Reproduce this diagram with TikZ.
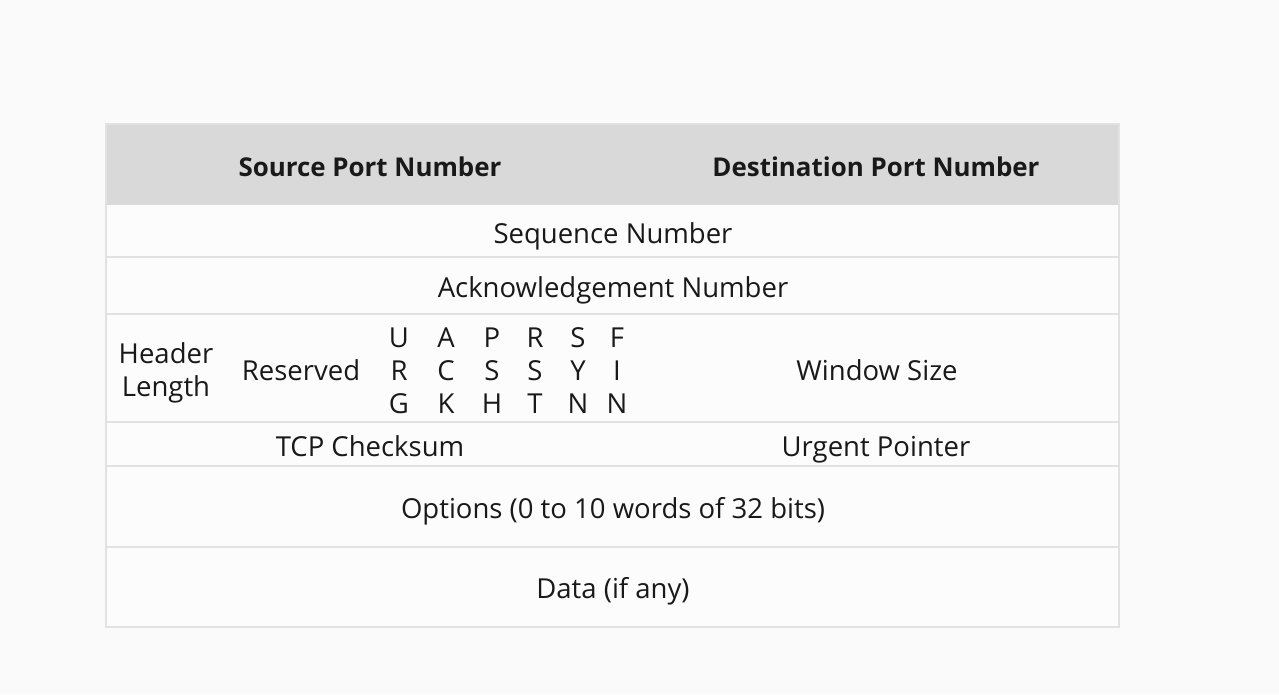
\documentclass[tikz,border=0pt]{standalone}
\usepackage{fontspec}
\setmainfont{Open Sans}
\definecolor{bgc}{HTML}{FAFAFA}
\definecolor{cellc}{HTML}{FCFCFC}
\definecolor{headc}{HTML}{D9D9D9}
\definecolor{linec}{HTML}{E2E2E2}
\begin{document}
\begin{tikzpicture}[x=1pt,y=-1pt,
  txt/.style={anchor=base,inner sep=0pt,font=\fontsize{27.5}{32}\selectfont,text=black!90},
  htxt/.style={txt,font=\fontsize{25.9}{32}\selectfont\bfseries},
  flag/.style={txt},
  rule/.style={draw=linec,line width=1.2pt}]
\fill[bgc] (0,0) rectangle (1279,694);
\useasboundingbox (0,0) rectangle (1279,694);
\fill[cellc] (106,124) rectangle (1119,627);
\fill[headc] (106,124) rectangle (1119,205);
\draw[rule] (106,124) rectangle (1119,627);
\foreach \yy in {257,314,422,466,547} \draw[rule] (106,\yy) -- (1119,\yy);
% header
\node[htxt] (src) at (370,176) {Source Port Number};
\node[htxt] (dst) at (876,176) {Destination Port Number};
\node[txt] (seq) at (613,243) {Sequence Number};
\node[txt] (ack) at (613,297) {Acknowledgement Number};
\node[txt] (hl1) at (166,363) {Header};
\node[txt] (hl2) at (166,396) {Length};
\node[txt] (res) at (301,380) {Reserved};
% flags
\node[flag] (u1) at (399,347) {U};
\node[flag] (u2) at (399,380) {R};
\node[flag] (u3) at (399,413) {G};
\node[flag] (a1) at (446,347) {A};
\node[flag] (a2) at (446,380) {C};
\node[flag] (a3) at (446,413) {K};
\node[flag] (p1) at (492,347) {P};
\node[flag] (p2) at (492,380) {S};
\node[flag] (p3) at (492,413) {H};
\node[flag] (r1) at (535,347) {R};
\node[flag] (r2) at (535,380) {S};
\node[flag] (r3) at (535,413) {T};
\node[flag] (s1) at (578,347) {S};
\node[flag] (s2) at (578,380) {Y};
\node[flag] (s3) at (578,413) {N};
\node[flag] (f1) at (617,347) {F};
\node[flag] (f2) at (617,380) {I};
\node[flag] (f3) at (617,413) {N};
\node[txt] (win) at (877,380) {Window Size};
\node[txt] (chk) at (370,456) {TCP Checksum};
\node[txt] (urg) at (876,456) {Urgent Pointer};
\node[txt] (opt) at (613,518) {Options (0 to 10 words of 32 bits)};
\node[txt] (dat) at (613,598) {Data (if any)};
\end{tikzpicture}
\end{document}
